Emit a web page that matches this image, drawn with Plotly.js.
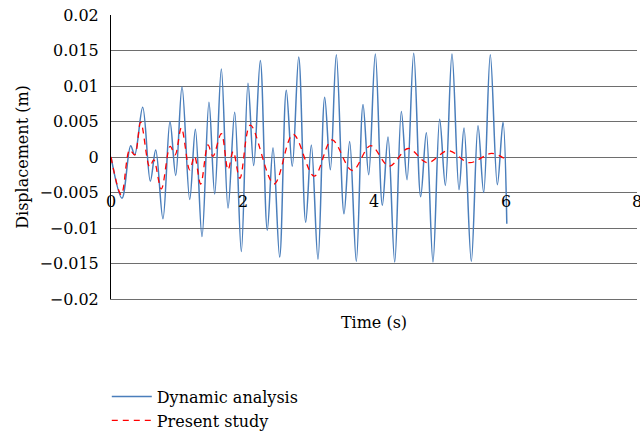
<!DOCTYPE html>
<html>
<head>
<meta charset="utf-8">
<script src="https://cdn.plot.ly/plotly-3.0.1.min.js"></script>
<style>html,body{margin:0;padding:0;background:#fff;}#chart{width:640px;height:436px;}</style>
</head>
<body>
<div id="chart"></div>
<script>
// Dynamic analysis (blue) – time (s) and displacement (m)
const dynTime = [0, 0.167, 0.299, 0.36, 0.482, 0.598, 0.68, 0.79, 0.897, 0.984,
  1.08, 1.197, 1.283, 1.384, 1.49, 1.577, 1.678, 1.78, 1.881, 1.982,
  2.084, 2.17, 2.271, 2.377, 2.464, 2.565, 2.666, 2.757, 2.855, 2.961,
  3.047, 3.148, 3.25, 3.336, 3.427, 3.544, 3.63, 3.731, 3.833, 3.919,
  4.02, 4.127, 4.213, 4.315, 4.416, 4.502, 4.604, 4.71, 4.796, 4.897,
  4.999, 5.085, 5.186, 5.293, 5.369, 5.48, 5.582, 5.668, 5.769, 5.876,
  5.962, 6.02];
const dynDisp = [0, -0.0058, 0.0016, 0.0003, 0.0070, -0.0034, 0.0010, -0.0087, 0.0050, -0.0026,
  0.0099, -0.0060, 0.0039, -0.0112, 0.0077, -0.0052, 0.0124, -0.0072, 0.0063, -0.0133,
  0.0104, -0.0012, 0.0136, -0.0103, 0.0013, -0.0141, 0.0094, -0.0013, 0.0141, -0.0092,
  0.0017, -0.0144, 0.0084, -0.0018, 0.0144, -0.0080, 0.0022, -0.0147, 0.0074, -0.0025,
  0.0145, -0.0068, 0.0028, -0.0148, 0.0064, -0.0032, 0.0146, -0.0056, 0.0034, -0.0148,
  0.0053, -0.0040, 0.0145, -0.0046, 0.0041, -0.0147, 0.0044, -0.0050, 0.0144, -0.0039,
  0.0049, -0.0094];

// Present study (red dashed)
const preTime = [0, 0.157, 0.284, 0.36, 0.452, 0.588, 0.65, 0.765, 0.90, 0.975,
  1.07, 1.197, 1.27, 1.364, 1.475, 1.55, 1.678, 1.78, 1.858, 1.96,
  2.12, 2.48, 2.77, 3.09, 3.36, 3.67, 3.95, 4.23, 4.52, 4.81,
  5.13, 5.45, 5.79, 6.01];
const preDisp = [0, -0.0053, 0.0010, 0.0003, 0.0049, -0.0014, -0.0004, -0.0045, 0.0015, 0.0003,
  0.0041, -0.0018, 0.0001, -0.0038, 0.0017, 0.0001, 0.0033, -0.0018, 0.0008, -0.0030,
  0.0045, -0.0038, 0.0032, -0.0027, 0.0024, -0.0019, 0.0016, -0.0013, 0.0012, -0.0008,
  0.0009, -0.0008, 0.0005, -0.0004];

const seriesNames = ['Dynamic analysis', 'Present study'];
const yTickVals = [-0.02, -0.015, -0.01, -0.005, 0, 0.005, 0.01, 0.015, 0.02];
const yTickText = ['\u22120.02', '\u22120.015', '\u22120.01', '\u22120.005', '0', '0.005', '0.01', '0.015', '0.02'];
const xTickVals = [0, 2, 4, 6, 8];
const xTickText = ['0', '2', '4', '6', '8'];
const xTickLabelLevel = -0.0062;

const FONT = 'DejaVu Serif, Liberation Serif, serif';

const traces = [
  {x: dynTime, y: dynDisp, name: seriesNames[0], type: 'scatter', mode: 'lines',
   line: {color: '#4a7ebb', width: 1.5, shape: 'spline', smoothing: 1}},
  {x: preTime, y: preDisp, name: seriesNames[1], type: 'scatter', mode: 'lines',
   line: {color: '#ff0000', width: 1.3, dash: '6px,5px', shape: 'spline', smoothing: 1}}
];

const annotations = xTickVals.map((v, i) => ({
  x: v, y: xTickLabelLevel, xref: 'x', yref: 'y', text: xTickText[i], showarrow: false,
  xanchor: 'center', yanchor: 'middle', font: {family: FONT, size: 16, color: '#000'}
}));

const layout = {
  width: 640, height: 436,
  margin: {l: 111, r: 3, t: 15, b: 137, autoexpand: false},
  paper_bgcolor: '#fff', plot_bgcolor: '#fff',
  font: {family: FONT, size: 16, color: '#000'},
  showlegend: true,
  legend: {x: -0.008, y: -0.284, xanchor: 'left', yanchor: 'top', orientation: 'v',
           font: {family: FONT, size: 16, color: '#000'}, bgcolor: 'rgba(0,0,0,0)',
           tracegroupgap: 0, itemwidth: 40},
  xaxis: {range: [0, 8], showgrid: false, zeroline: false, automargin: false,
          showline: true, linecolor: '#6e6e6e', linewidth: 1,
          showticklabels: false, ticks: '',
          title: {text: 'Time (s)', font: {family: FONT, size: 16, color: '#000'}, standoff: 17}},
  yaxis: {range: [-0.02, 0.02], tickvals: yTickVals, ticktext: yTickText, automargin: false,
          showgrid: true, gridcolor: '#6e6e6e', gridwidth: 1, zeroline: false,
          showline: true, linecolor: '#000', linewidth: 1,
          ticks: 'outside', ticklen: 8, tickcolor: 'rgba(0,0,0,0)',
          tickfont: {family: FONT, size: 16, color: '#000'},
          title: {text: 'Displacement (m)', font: {family: FONT, size: 16, color: '#000'}, standoff: 6}},
  annotations: annotations
};

Plotly.newPlot('chart', traces, layout, {staticPlot: true, displayModeBar: false});
</script>
</body>
</html>
